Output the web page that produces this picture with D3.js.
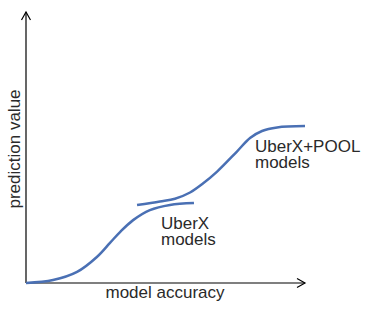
<!DOCTYPE html>
<html><head><meta charset="utf-8">
<script src="https://cdn.jsdelivr.net/npm/d3@7"></script>
<style>body{margin:0;background:#fff}svg{display:block}text{font-family:"Liberation Sans",Arial,sans-serif;fill:#2a2a2a}</style>
</head><body>
<script>
// model accuracy (x) vs prediction value (y), abstract units 0..10
const uberXAcc  = [0, 0.97, 1.83, 2.54, 3.01, 3.37, 3.84, 4.44, 5.16, 6.02];
const uberXPred = [0, 0.11, 0.41, 0.96, 1.48, 1.88, 2.32, 2.69, 2.88, 2.95];
const poolAcc   = [3.98, 4.80, 5.34, 5.88, 6.34, 6.85, 7.56, 8.03, 8.46, 9.00, 10];
const poolPred  = [2.88, 3.01, 3.11, 3.34, 3.67, 4.11, 4.85, 5.35, 5.61, 5.74, 5.79];
const seriesLabels = [["UberX","models"],["UberX+POOL","models"]];
const xTitle = "model accuracy", yTitle = "prediction value";

const W=369,H=310;
const svg=d3.select("body").append("svg").attr("width",W).attr("height",H);
const x=d3.scaleLinear().domain([0,10]).range([26,305]);
const y=d3.scaleLinear().domain([0,10]).range([283,12]);

const axisCol="#000";
svg.append("line").attr("x1",x(0)).attr("y1",y(0)).attr("x2",x(0)).attr("y2",y(10)).attr("stroke",axisCol).attr("stroke-width",1.2);
svg.append("line").attr("x1",x(0)).attr("y1",y(0)).attr("x2",x(10)).attr("y2",y(0)).attr("stroke",axisCol).attr("stroke-width",1.2);
svg.append("path").attr("d",`M${x(0)-4.5},${y(10)+8}L${x(0)},${y(10)}L${x(0)+4.5},${y(10)+8}`).attr("fill","none").attr("stroke",axisCol).attr("stroke-width",1.2);
svg.append("path").attr("d",`M${x(10)-8},${y(0)-4.5}L${x(10)},${y(0)}L${x(10)-8},${y(0)+4.5}`).attr("fill","none").attr("stroke",axisCol).attr("stroke-width",1.2);

const line=d3.line().x(d=>x(d[0])).y(d=>y(d[1])).curve(d3.curveCatmullRom.alpha(0.5));
const s1=uberXAcc.map((v,i)=>[v,uberXPred[i]]);
const s2=poolAcc.map((v,i)=>[v,poolPred[i]]);
[s1,s2].forEach(s=>svg.append("path").attr("d",line(s)).attr("fill","none").attr("stroke","#4a70b4").attr("stroke-width",2.5));

const fs=17;
function lbl(lines,px,py){
  lines.forEach((l,i)=>svg.append("text").attr("x",px).attr("y",py+i*16).attr("font-size",fs).text(l));
}
lbl(seriesLabels[0],161,229);
lbl(seriesLabels[1],255,152);

svg.append("text").attr("x",165).attr("y",298).attr("text-anchor","middle").attr("font-size",fs).text(xTitle);
svg.append("text").attr("transform",`translate(20,149) rotate(-90)`).attr("text-anchor","middle").attr("font-size",fs).text(yTitle);
</script>
</body></html>
